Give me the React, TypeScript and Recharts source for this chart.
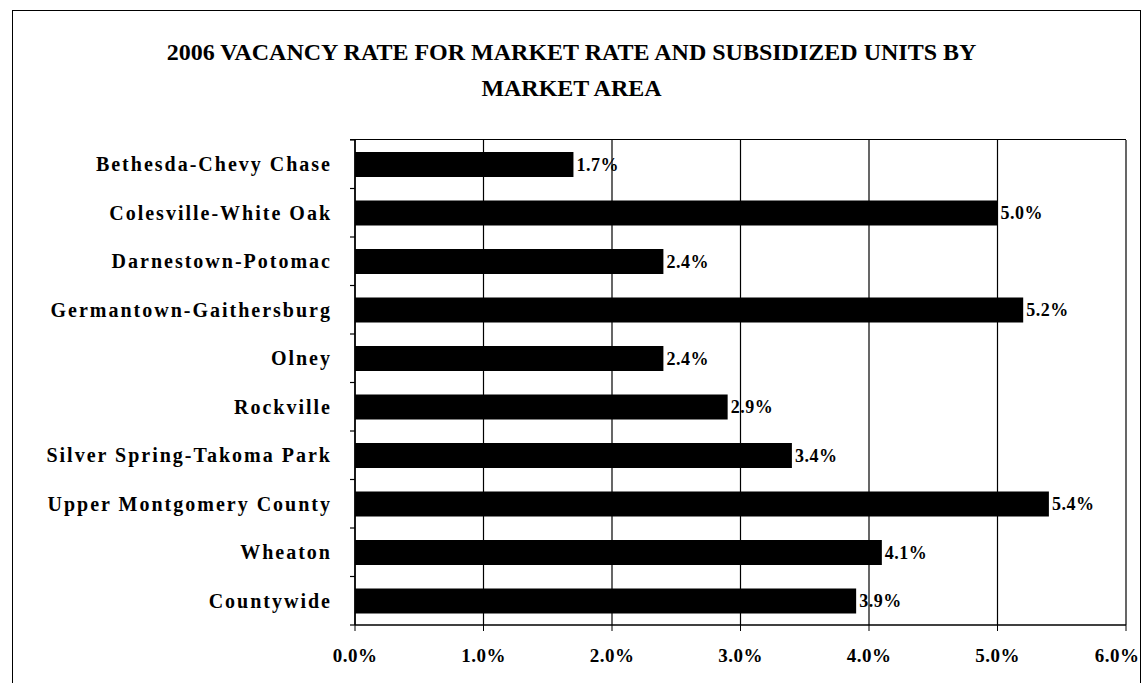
import React from "react";
import { BarChart, Bar, XAxis, YAxis, CartesianGrid, LabelList } from "recharts";

const categories = [
  "Bethesda-Chevy Chase",
  "Colesville-White Oak",
  "Darnestown-Potomac",
  "Germantown-Gaithersburg",
  "Olney",
  "Rockville",
  "Silver Spring-Takoma Park",
  "Upper Montgomery County",
  "Wheaton",
  "Countywide",
];
const vacancyRates = [1.7, 5.0, 2.4, 5.2, 2.4, 2.9, 3.4, 5.4, 4.1, 3.9];
const xTicks = [0, 1, 2, 3, 4, 5, 6];
const titleLines = [
  "2006 VACANCY RATE FOR MARKET RATE AND SUBSIDIZED UNITS BY",
  "MARKET AREA",
];

const data = categories.map((name, i) => ({ name, value: vacancyRates[i] }));
const FONT = "'Liberation Serif', 'Times New Roman', serif";
const fmt = (v: number) => `${Number(v).toFixed(1)}%`;
const CHART_W = 1143;
const CHART_H = 683;
const MARGIN_TOP = 140;
const MARGIN_RIGHT = 17;
const Y_AXIS_W = 355;

const YTick = (props: any) => {
  const { x, y, payload, index, visibleTicksCount } = props;
  const off = payload && payload.offset ? payload.offset : 0;
  const ax = x + 23;
  return (
    <g>
      <line x1={ax - 5} x2={ax} y1={y - off} y2={y - off} stroke="#000" strokeWidth={1.2} />
      {index === visibleTicksCount - 1 ? (
        <line x1={ax - 5} x2={ax} y1={y + off} y2={y + off} stroke="#000" strokeWidth={1.2} />
      ) : null}
      <text
        x={x}
        y={y}
        dy="0.35em"
        textAnchor="end"
        fontFamily={FONT}
        fontWeight="bold"
        fontSize={20}
        letterSpacing={2}
        fill="#000"
      >
        {payload.value}
      </text>
    </g>
  );
};

const XTick = (props: any) => {
  const { x, y, payload } = props;
  const label = fmt(payload.value);
  const half = 24;
  const cx = Math.min(x, CHART_W - 2 - half);
  return (
    <text
      x={cx}
      y={y}
      dy="0.71em"
      textAnchor="middle"
      fontFamily={FONT}
      fontWeight="bold"
      fontSize={19}
      letterSpacing={0.5}
      fill="#000"
    >
      {label}
    </text>
  );
};

export default function App() {
  return (
    <div style={{ position: "absolute", left: 0, top: 0, width: CHART_W, height: CHART_H, background: "#fff" }}>
      <div
        style={{
          position: "absolute",
          left: 12,
          top: 10,
          width: 1129,
          height: 700,
          borderLeft: "1.5px solid #000",
          borderTop: "1.5px solid #000",
          borderRight: "1.5px solid #000",
          boxSizing: "border-box",
        }}
      />
      <div
        style={{
          position: "absolute",
          left: 0,
          top: 34,
          width: CHART_W,
          textAlign: "center",
          fontFamily: FONT,
          fontWeight: "bold",
          fontSize: 24,
          lineHeight: "36px",
          color: "#000",
        }}
      >
        {titleLines.map((t) => (
          <div key={t}>{t}</div>
        ))}
      </div>
      <div style={{ position: "absolute", left: 0, top: 0 }}>
        <BarChart
          width={CHART_W}
          height={CHART_H}
          data={data}
          layout="vertical"
          margin={{ top: MARGIN_TOP, right: MARGIN_RIGHT, bottom: 0, left: 0 }}
          barCategoryGap={0}
        >
          <CartesianGrid horizontal={false} stroke="#000" strokeWidth={1.2} />
          <XAxis
            type="number"
            domain={[0, 6]}
            ticks={xTicks}
            height={58}
            stroke="#000"
            axisLine={{ stroke: "#000", strokeWidth: 1.5 }}
            tickLine={{ stroke: "#000" }}
            tickSize={6}
            tickMargin={18}
            interval={0}
            tick={<XTick />}
          />
          <YAxis
            type="category"
            dataKey="name"
            width={Y_AXIS_W}
            axisLine={{ stroke: "#000", strokeWidth: 1.5 }}
            tickLine={false}
            tickSize={0}
            tickMargin={23}
            interval={0}
            tick={<YTick />}
          />
          <Bar dataKey="value" fill="#000" barSize={25} isAnimationActive={false}>
            <LabelList
              dataKey="value"
              position="right"
              offset={3}
              formatter={fmt}
              style={{ fontFamily: FONT, fontWeight: "bold", fontSize: 18, letterSpacing: 0.5, fill: "#000" }}
            />
          </Bar>
        </BarChart>
      </div>
      <div
        style={{
          position: "absolute",
          left: Y_AXIS_W - 5,
          top: MARGIN_TOP - 1,
          width: CHART_W - MARGIN_RIGHT - Y_AXIS_W + 5,
          height: 0,
          borderTop: "1.5px solid #000",
          zIndex: 5,
        }}
      />
    </div>
  );
}
